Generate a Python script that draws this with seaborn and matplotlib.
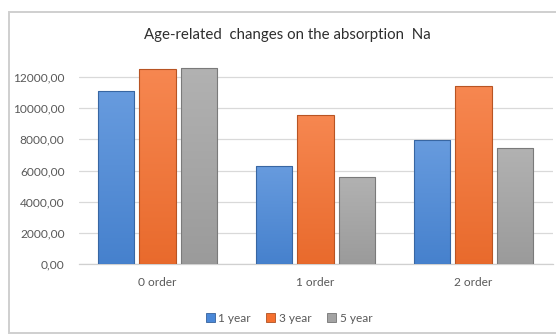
import numpy as np
import pandas as pd
import matplotlib
matplotlib.use("Agg")
import matplotlib.pyplot as plt
import matplotlib.colors as mcolors
from matplotlib.patches import Rectangle, Patch
from matplotlib.ticker import FuncFormatter
import seaborn as sns

# Sodium absorption by order and age
categories = ["0 order", "1 order", "2 order"]
series = ["1 year", "3 year", "5 year"]
year1 = [11100, 6300, 7950]
year3 = [12500, 9550, 11400]
year5 = [12600, 5600, 7450]
title = "Age-related  changes on the absorption  Na"

colors = ["#4a88d8", "#f5702f", "#a3a3a3"]

df = pd.DataFrame({
    "order": categories * 3,
    "age": [s for s in series for _ in categories],
    "value": year1 + year3 + year5,
})

sns.set_theme(style="white")
plt.rcParams["font.family"] = ["Lato", "DejaVu Sans"]

W, H = 556, 336
fig = plt.figure(figsize=(W / 100, H / 100), dpi=100)
fig.patch.set_facecolor("white")

# chart frame
frame = Rectangle((9 / W, 1 - 333 / H), (W + 20) / W, (333 - 12) / H,
                  transform=fig.transFigure, facecolor="white",
                  edgecolor="#cfcfcf", linewidth=1.4, zorder=-10)
fig.patches.append(frame)

ax_left, ax_right = 78.5, 552.5
ax_bottom, ax_top = 264, 61.5
ax = fig.add_axes([ax_left / W, 1 - ax_bottom / H,
                   (ax_right - ax_left) / W, (ax_bottom - ax_top) / H])
ax.set_facecolor("none")

sns.barplot(data=df, x="order", y="value", hue="age", hue_order=series,
            order=categories, palette=colors, width=0.79, gap=0.12,
            saturation=1, legend=False, ax=ax, zorder=3)

# vertical gradient fill on every bar
for p in list(ax.patches):
    base = np.array(mcolors.to_rgb(p.get_facecolor()))
    top = base + (1 - base) * 0.16
    bottom = base * 0.95
    t = np.linspace(0, 1, 64)[:, None]
    grad = (top[None, :] * (1 - t) + bottom[None, :] * t)[:, None, :]
    x0, y0 = p.get_x(), p.get_y()
    w, h = p.get_width(), p.get_height()
    im = ax.imshow(grad, extent=[x0, x0 + w, y0, y0 + h], aspect="auto",
                   origin="upper", zorder=3.5, interpolation="bilinear")
    im.set_clip_path(p)
    p.set_edgecolor(tuple(base * 0.75))
    p.set_linewidth(0.8)
    p.set_zorder(4)
    p.set_facecolor("none")

ax.set_xlim(-0.5, 2.5)
ax.set_ylim(0, 13000)
ax.set_yticks(np.arange(0, 12001, 2000))
ax.yaxis.set_major_formatter(FuncFormatter(lambda v, _: f"{v:.2f}".replace(".", ",")))
ax.grid(axis="y", color="#d9d9d9", linewidth=0.9, zorder=0)
ax.set_axisbelow(True)
for s in ["top", "right", "left"]:
    ax.spines[s].set_visible(False)
ax.spines["bottom"].set_color("#d0d0d0")
ax.spines["bottom"].set_linewidth(0.9)
ax.tick_params(axis="y", length=0, pad=10, labelsize=8.6, labelcolor="#595959")
ax.tick_params(axis="x", length=0, pad=9, labelsize=8.6, labelcolor="#595959")
ax.set_xlabel("")
ax.set_ylabel("")

fig.text(287 / W, 1 - 35 / H, title, ha="center", va="center",
         fontsize=10.8, color="#2e2e2e")

handles = [Patch(facecolor=c, edgecolor=tuple(np.array(mcolors.to_rgb(c)) * 0.72),
                 linewidth=0.6) for c in colors]
fig.legend(handles, series, loc="center", bbox_to_anchor=(289 / W, 1 - 318 / H),
           ncol=3, frameon=False, fontsize=8.6, handlelength=0.75, handleheight=0.75,
           handletextpad=0.3, columnspacing=1.3, labelcolor="#595959")

fig.savefig("out.png", dpi=100, facecolor="white")
